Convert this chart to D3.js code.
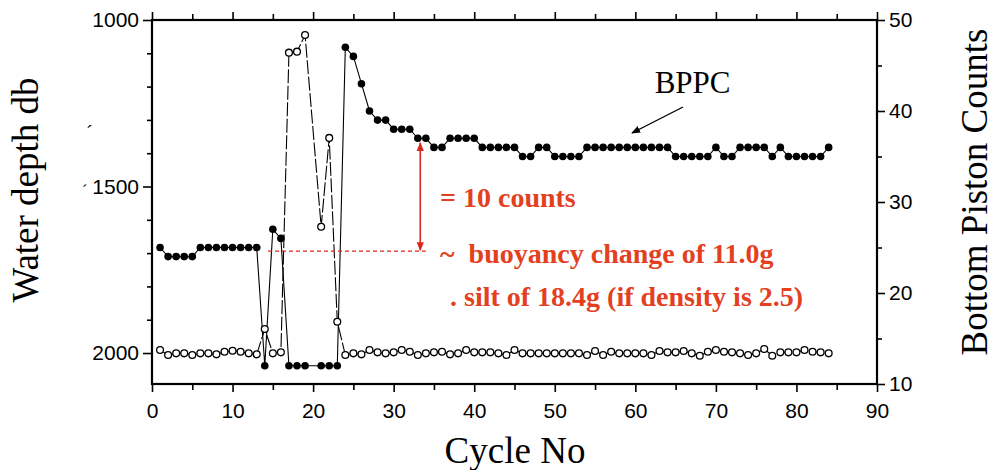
<!DOCTYPE html>
<html><head><meta charset="utf-8">
<script src="https://cdn.jsdelivr.net/npm/d3@7"></script>
<style>body{margin:0;background:#fff;} svg{display:block;}</style>
</head><body>
<svg id="chart" width="995" height="470"></svg>
<script>
// ---------------- data ----------------
const cycles = [1,2,3,4,5,6,7,8,9,10,11,12,13,14,15,16,17,18,19,
  21,22,23,24,25,26,27,28,29,30,31,32,33,34,35,36,37,38,39,40,
  41,42,43,44,45,46,47,48,49,50,51,52,53,54,55,56,57,58,59,60,
  61,62,63,64,65,66,67,68,69,70,71,72,73,74,75,76,77,78,79,80,
  81,82,83,84];
const bppcCounts = [25,24,24,24,24,25,25,25,25,25,25,25,25,12,27,26,12,12,12,
  12,12,12,47,46,43,40,39,39,38,38,38,37,37,36,36,37,37,37,37,
  36,36,36,36,36,35,35,36,36,35,35,35,35,36,36,36,36,36,36,36,
  36,36,36,36,35,35,35,35,35,36,35,35,36,36,36,36,35,36,35,35,
  35,35,35,36];
const waterDepth = [1991,2006,2001,2001,2006,2001,2001,2004,1996,1993,1996,2001,2004,1928,2001,1998,1098,1095,1045,
  1621,1354,1906,2006,2001,2004,1991,1998,2001,1998,1991,1996,2006,2001,1998,1996,2004,2001,1991,1998,
  1998,1998,2001,2006,1991,2001,2001,2001,2001,2001,2001,2001,2001,2006,1994,2006,1996,2001,2001,2001,
  2001,2006,1994,1998,1998,1994,2001,2008,1996,1991,1996,1998,2001,2006,2001,1988,2008,1998,1998,1998,
  1991,1996,1998,2001];
const xTickLabels = [0,10,20,30,40,50,60,70,80,90];
const xMinorTicks = [5,15,25,35,45,55,65,75,85];
const depthTickLabels = [1000,1500,2000];
const depthMinorTicks = [1100,1200,1300,1400,1600,1700,1800,1900];
const countTickLabels = [10,20,30,40,50];
const countMinorTicks = [15,25,35,45];
const annotationTexts = ["= 10 counts", "~  buoyancy change of 11.0g", ". silt of 18.4g (if density is 2.5)"];

// ---------------- layout ----------------
const plot = {left:152, right:877, top:20, bottom:384};
const x = d3.scaleLinear().domain([0,90]).range([plot.left, plot.right]);
const yDepth = d3.scaleLinear().domain([1000,2093]).range([plot.top, plot.bottom]);
const yCount = d3.scaleLinear().domain([10,50]).range([plot.bottom, plot.top]);

const svg = d3.select("#chart");
const RED_TXT = "#e3401f", RED_LN = "#d8281e";

const defs = svg.append("defs");
function marker(id, color, orient){
  defs.append("marker").attr("id", id).attr("viewBox","0 0 10 10")
    .attr("refX", 9).attr("refY", 5).attr("markerWidth", 9).attr("markerHeight", 9)
    .attr("markerUnits","userSpaceOnUse").attr("orient", orient)
    .append("path").attr("d","M0,1 L10,5 L0,9 Z").attr("fill", color);
}
marker("arrBlack","#000","auto");
marker("arrRedEnd",RED_LN,"auto");
marker("arrRedStart",RED_LN,"auto-start-reverse");

// ---------------- axes ----------------
const tickFont = "'Liberation Sans', Arial, sans-serif";
function styleAxis(g){
  g.select(".domain").remove();
  g.selectAll("line").attr("stroke","#000").attr("stroke-width",1.6);
  g.selectAll("text").attr("font-family", tickFont).attr("font-size", 21).attr("fill","#000");
}
// bottom
svg.append("g").attr("transform",`translate(0,${plot.bottom})`)
  .call(d3.axisBottom(x).tickValues(xTickLabels).tickSize(8).tickPadding(11).tickFormat(d3.format("d"))).call(styleAxis);
svg.append("g").attr("transform",`translate(0,${plot.bottom})`)
  .call(d3.axisBottom(x).tickValues(xMinorTicks).tickSize(6).tickFormat("")).call(styleAxis);
// top (ticks only)
svg.append("g").attr("transform",`translate(0,${plot.top})`)
  .call(d3.axisTop(x).tickValues(xTickLabels).tickSize(8).tickFormat("")).call(styleAxis);
svg.append("g").attr("transform",`translate(0,${plot.top})`)
  .call(d3.axisTop(x).tickValues(xMinorTicks).tickSize(6).tickFormat("")).call(styleAxis);
// left
svg.append("g").attr("transform",`translate(${plot.left},0)`)
  .call(d3.axisLeft(yDepth).tickValues(depthTickLabels).tickSize(9).tickPadding(4).tickFormat(d3.format("d"))).call(styleAxis);
svg.append("g").attr("transform",`translate(${plot.left},0)`)
  .call(d3.axisLeft(yDepth).tickValues(depthMinorTicks).tickSize(5).tickFormat("")).call(styleAxis);
// right
svg.append("g").attr("transform",`translate(${plot.right},0)`)
  .call(d3.axisRight(yCount).tickValues(countTickLabels).tickSize(8).tickPadding(4).tickFormat(d3.format("d"))).call(styleAxis);
svg.append("g").attr("transform",`translate(${plot.right},0)`)
  .call(d3.axisRight(yCount).tickValues(countMinorTicks).tickSize(5).tickFormat("")).call(styleAxis);

// frame
svg.append("rect").attr("x",plot.left).attr("y",plot.top)
  .attr("width",plot.right-plot.left).attr("height",plot.bottom-plot.top)
  .attr("fill","none").attr("stroke","#000").attr("stroke-width",2.2);

// axis titles
const serif = "'Liberation Serif', 'Times New Roman', serif";
svg.append("text").attr("transform","translate(38,190) rotate(-90)")
  .attr("text-anchor","middle").attr("font-family",serif).attr("font-size",37).text("Water depth db");
svg.append("text").attr("transform","translate(987,192) rotate(-90)")
  .attr("text-anchor","middle").attr("font-family",serif).attr("font-size",37).text("Bottom Piston Counts");
svg.append("text").attr("x",515).attr("y",463)
  .attr("text-anchor","middle").attr("font-family",serif).attr("font-size",37).text("Cycle No");
// small stray marks seen in the reference
svg.append("text").attr("x",86).attr("y",140).attr("font-family",serif).attr("font-size",20).text("\u00B4");
svg.append("text").attr("x",82).attr("y",196).attr("font-family",serif).attr("font-size",16).text("\u00B4");

// ---------------- series ----------------
const bppc = cycles.map((c,i)=>({c, v:bppcCounts[i]}));
const depth = cycles.map((c,i)=>({c, v:waterDepth[i]}));

svg.append("path").datum(bppc)
  .attr("d", d3.line().x(d=>x(d.c)).y(d=>yCount(d.v)))
  .attr("fill","none").attr("stroke","#000").attr("stroke-width",1.1);
svg.append("path").datum(depth)
  .attr("d", d3.line().x(d=>x(d.c)).y(d=>yDepth(d.v)))
  .attr("fill","none").attr("stroke","#000").attr("stroke-width",1.1).attr("stroke-dasharray","14,2.5");

svg.append("g").selectAll("circle").data(bppc).join("circle")
  .attr("cx",d=>x(d.c)).attr("cy",d=>yCount(d.v)).attr("r",3.8).attr("fill","#000");
svg.append("g").selectAll("circle").data(depth).join("circle")
  .attr("cx",d=>x(d.c)).attr("cy",d=>yDepth(d.v)).attr("r",3.4)
  .attr("fill","#fff").attr("stroke","#000").attr("stroke-width",1.3);

// ---------------- annotations ----------------
svg.append("text").attr("x",x(62.4)).attr("y",93).attr("font-family",serif).attr("font-size",31).text("BPPC");
svg.append("line").attr("x1",683).attr("y1",107).attr("x2",632).attr("y2",133)
  .attr("stroke","#000").attr("stroke-width",1.4).attr("marker-end","url(#arrBlack)");

svg.append("line").attr("x1",x(14.4)).attr("x2",x(34)).attr("y1",yCount(24.6)).attr("y2",yCount(24.6))
  .attr("stroke",RED_LN).attr("stroke-width",1.2).attr("stroke-dasharray","4,3");
svg.append("line").attr("x1",x(33.3)).attr("x2",x(33.3)).attr("y1",yCount(24.7)).attr("y2",yCount(36.5))
  .attr("stroke",RED_LN).attr("stroke-width",1.6)
  .attr("marker-start","url(#arrRedStart)").attr("marker-end","url(#arrRedEnd)");

const annPos = [[440,207],[440,263],[450,306]];
annotationTexts.forEach((t,i)=>{
  svg.append("text").attr("x",annPos[i][0]).attr("y",annPos[i][1])
    .attr("font-family",serif).attr("font-weight","bold").attr("font-size",28)
    .attr("fill",RED_TXT).style("white-space","pre").text(t);
});
</script>
</body></html>
